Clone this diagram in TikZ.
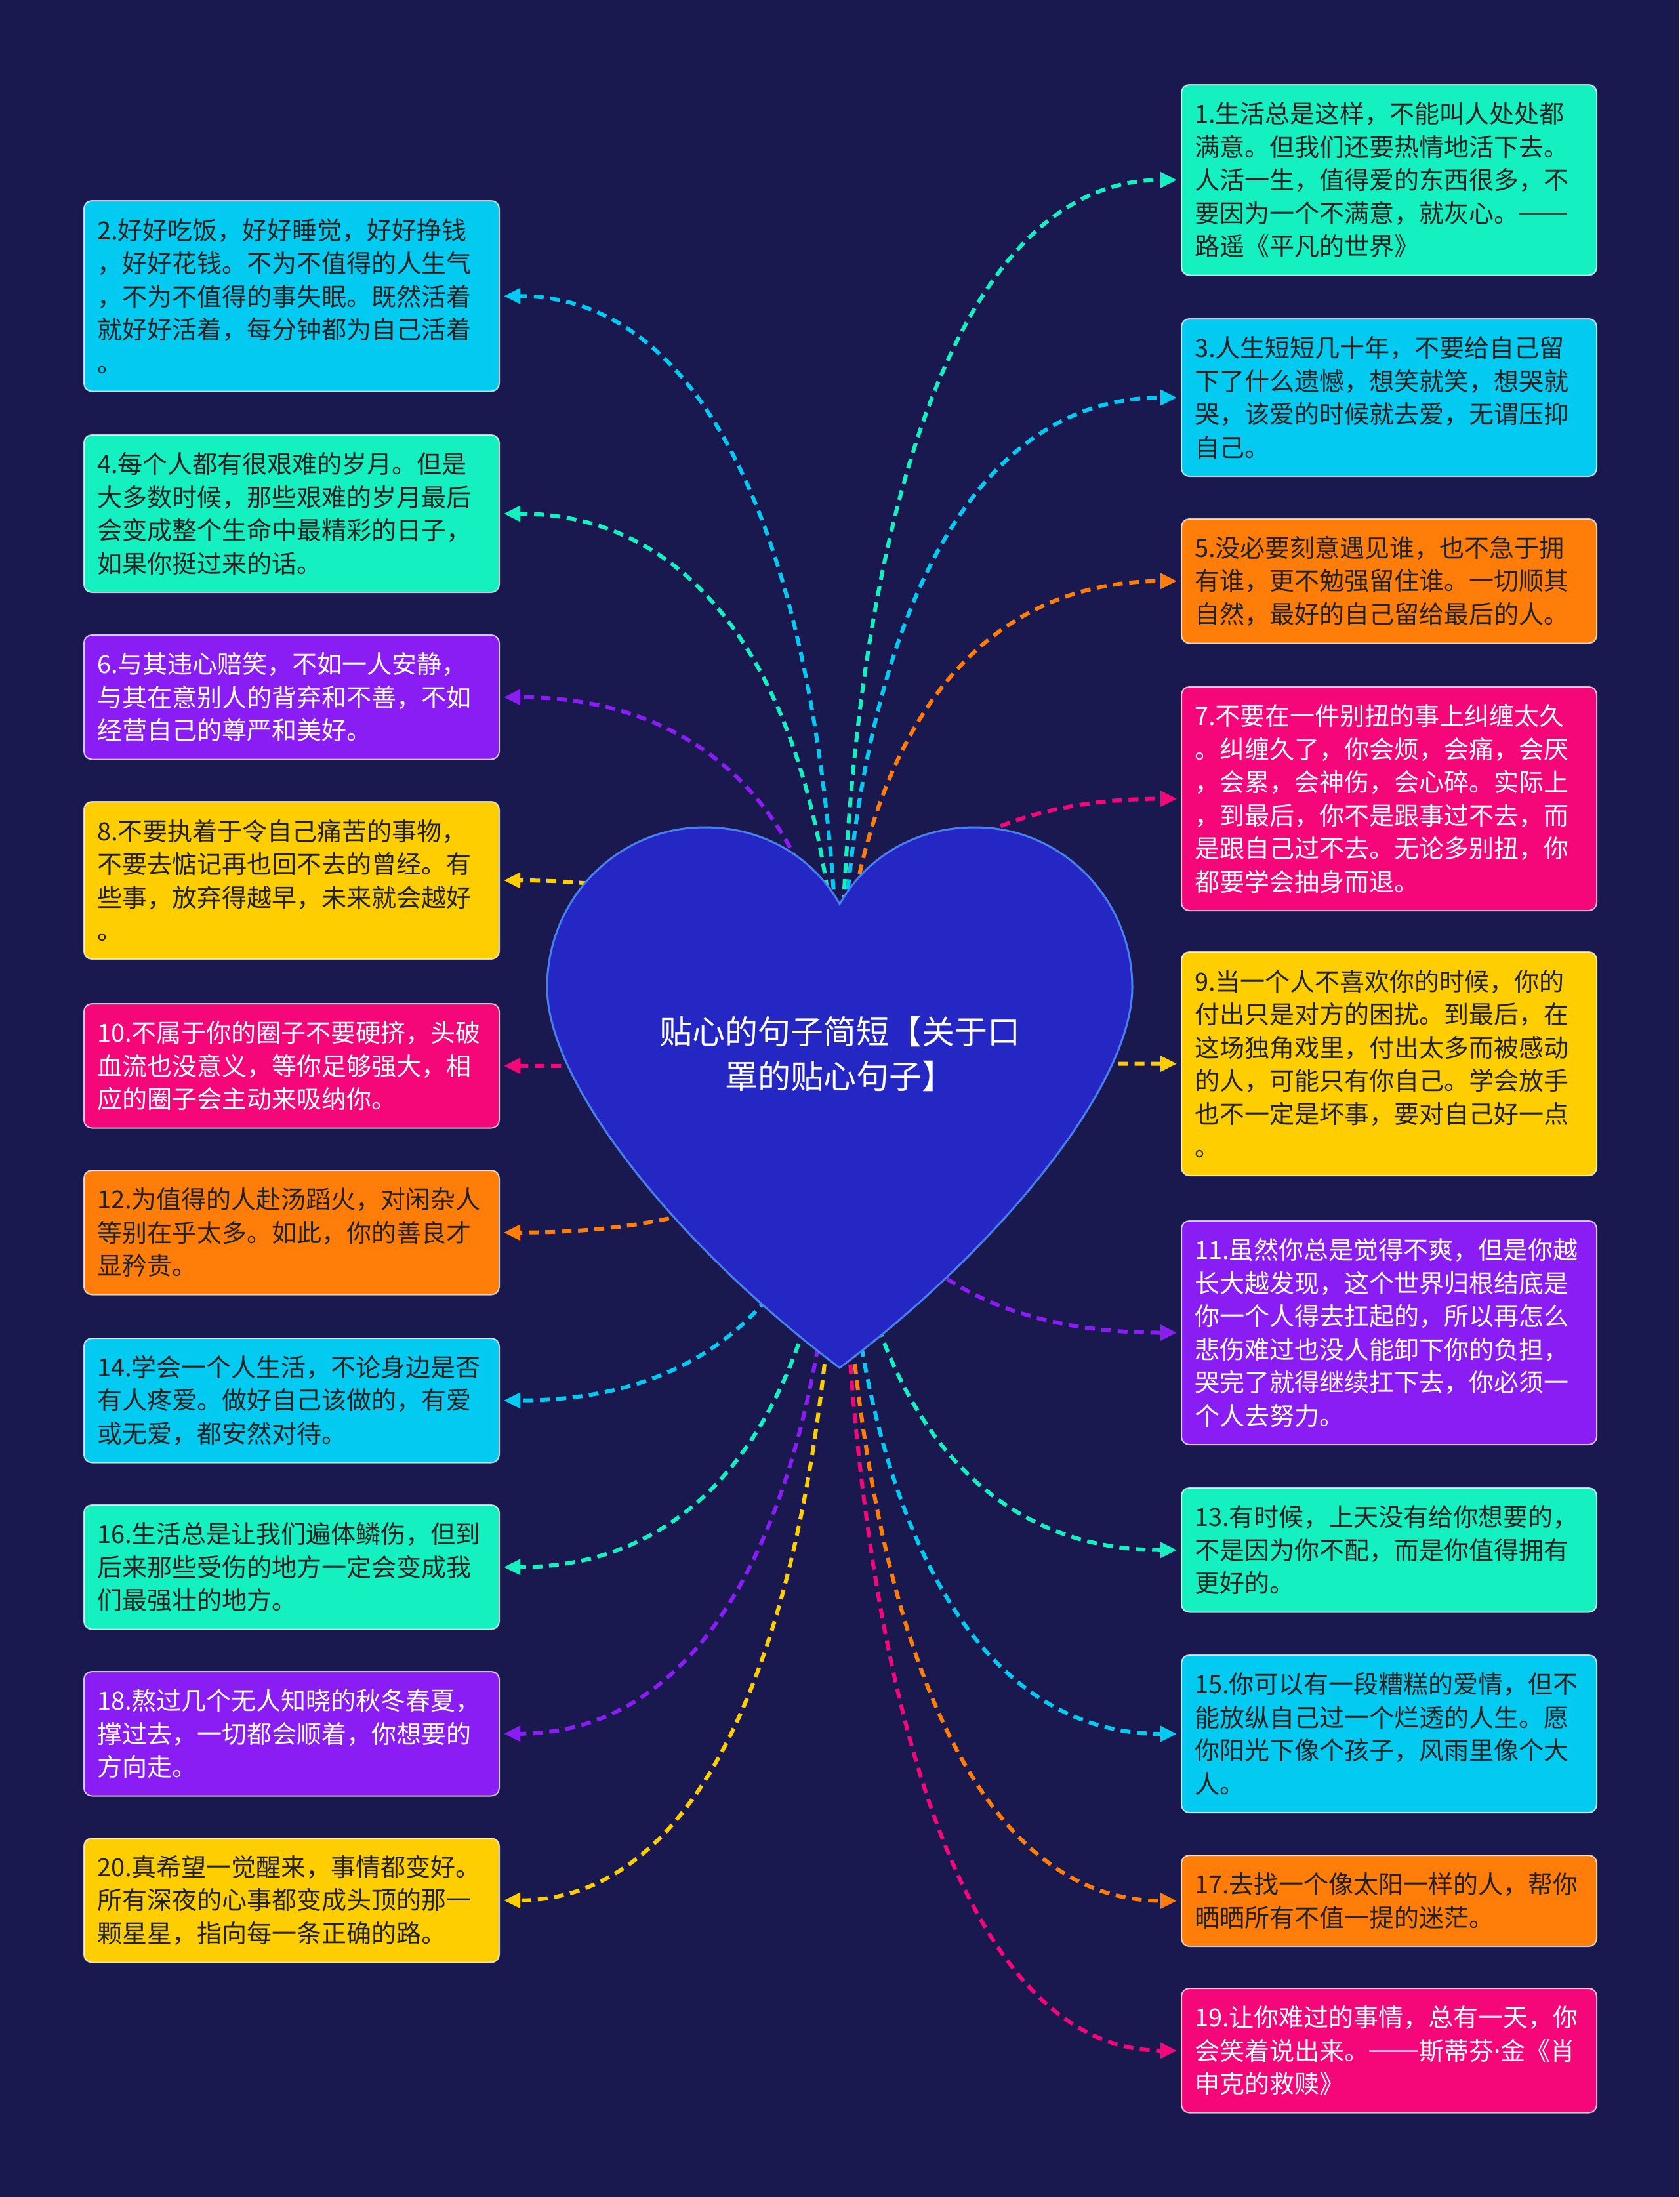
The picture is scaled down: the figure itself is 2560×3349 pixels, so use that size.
\documentclass[tikz,border=0pt]{standalone}
\usepackage{fontspec}
\setmainfont{Noto Sans CJK SC}
\newfontfamily\dotfont{Noto Sans}
\newcommand{\dashdash}{\rule[0.33em]{1.95em}{0.065em}\hspace{0.05em}}
\usetikzlibrary{arrows.meta,calc}
\definecolor{bg}{HTML}{19194F}
\definecolor{heartfill}{HTML}{2527C4}
\definecolor{heartline}{HTML}{4A80EE}
\definecolor{cTeal}{HTML}{14F0C0}
\definecolor{cCyan}{HTML}{02CAF0}
\definecolor{cOrange}{HTML}{FF7D08}
\definecolor{cPink}{HTML}{F5077A}
\definecolor{cPurple}{HTML}{8A1CF4}
\definecolor{cYellow}{HTML}{FFCE00}
\definecolor{darktext}{HTML}{222222}
\tikzset{
  box/.style={rounded corners=12pt, line width=2pt, draw=white, draw opacity=0.75,
    inner xsep=20pt, inner ysep=0pt, text width=593pt, align=left,
    anchor=north west, font=\fontsize{38}{50.5}\selectfont},
  dk/.style={box, text=darktext},
  lt/.style={box, text=white},
  ht2/.style={minimum height=139pt},
  ht3/.style={minimum height=189.5pt},
  ht4/.style={minimum height=240pt},
  ht5/.style={minimum height=290.5pt},
  ht6/.style={minimum height=341pt},
  conn/.style={line width=6pt, dash pattern=on 15pt off 10pt,
    -{Triangle[length=25pt,width=23pt]}},
}
\newcommand{\myconn}[3]{\draw[conn,draw=#1] (root) .. controls ($(root)!0.6!(root|-#2)$) and ($(#2)!0.67!(#2-|root)$) .. ($(#2)+(#3,0)$);}
\begin{document}
\begin{tikzpicture}[x=1pt,y=-1pt]
\useasboundingbox (0,0) rectangle (2560,3349);
\fill[bg] (0,0) rectangle (2560,3349);
\coordinate (root) at (1280,1630);
% right boxes
\node[dk,ht5,fill=cTeal] (b1) at (1800,128) {1.生活总是这样，不能叫人处处都\\满意。但我们还要热情地活下去。\\人活一生，值得爱的东西很多，不\\\mbox{要因为一个不满意，就灰心。\dashdash}\\路遥《平凡的世界》};
\node[dk,ht4,fill=cCyan] (b3) at (1800,485) {3.人生短短几十年，不要给自己留\\下了什么遗憾，想笑就笑，想哭就\\哭，该爱的时候就去爱，无谓压抑\\自己。};
\node[dk,ht3,fill=cOrange] (b5) at (1800,790) {5.没必要刻意遇见谁，也不急于拥\\有谁，更不勉强留住谁。一切顺其\\自然，最好的自己留给最后的人。};
\node[lt,ht6,fill=cPink] (b7) at (1800,1046) {7.不要在一件别扭的事上纠缠太久\\。纠缠久了，你会烦，会痛，会厌\\，会累，会神伤，会心碎。实际上\\，到最后，你不是跟事过不去，而\\是跟自己过不去。无论多别扭，你\\都要学会抽身而退。};
\node[dk,ht6,fill=cYellow] (b9) at (1800,1450) {9.当一个人不喜欢你的时候，你的\\付出只是对方的困扰。到最后，在\\这场独角戏里，付出太多而被感动\\的人，可能只有你自己。学会放手\\也不一定是坏事，要对自己好一点\\。};
\node[lt,ht6,fill=cPurple] (b11) at (1800,1860) {11.虽然你总是觉得不爽，但是你越\\长大越发现，这个世界归根结底是\\你一个人得去扛起的，所以再怎么\\悲伤难过也没人能卸下你的负担，\\哭完了就得继续扛下去，你必须一\\个人去努力。};
\node[dk,ht3,fill=cTeal] (b13) at (1800,2267) {13.有时候，上天没有给你想要的，\\不是因为你不配，而是你值得拥有\\更好的。};
\node[dk,ht4,fill=cCyan] (b15) at (1800,2522) {15.你可以有一段糟糕的爱情，但不\\能放纵自己过一个烂透的人生。愿\\你阳光下像个孩子，风雨里像个大\\人。};
\node[dk,ht2,fill=cOrange] (b17) at (1800,2827) {17.去找一个像太阳一样的人，帮你\\晒晒所有不值一提的迷茫。};
\node[lt,ht3,fill=cPink] (b19) at (1800,3030) {19.让你难过的事情，总有一天，你\\\mbox{会笑着说出来。\dashdash 斯蒂芬{\dotfont ·}金《肖}\\申克的救赎》};
% left boxes
\node[dk,ht5,fill=cCyan] (b2) at (127,305) {2.好好吃饭，好好睡觉，好好挣钱\\，好好花钱。不为不值得的人生气\\，不为不值得的事失眠。既然活着\\就好好活着，每分钟都为自己活着\\。};
\node[dk,ht4,fill=cTeal] (b4) at (127,662) {4.每个人都有很艰难的岁月。但是\\大多数时候，那些艰难的岁月最后\\会变成整个生命中最精彩的日子，\\如果你挺过来的话。};
\node[lt,ht3,fill=cPurple] (b6) at (127,967) {6.与其违心赔笑，不如一人安静，\\与其在意别人的背弃和不善，不如\\经营自己的尊严和美好。};
\node[dk,ht4,fill=cYellow] (b8) at (127,1221) {8.不要执着于令自己痛苦的事物，\\不要去惦记再也回不去的曾经。有\\些事，放弃得越早，未来就会越好\\。};
\node[lt,ht3,fill=cPink] (b10) at (127,1529) {10.不属于你的圈子不要硬挤，头破\\血流也没意义，等你足够强大，相\\应的圈子会主动来吸纳你。};
\node[dk,ht3,fill=cOrange] (b12) at (127,1783) {12.为值得的人赴汤蹈火，对闲杂人\\等别在乎太多。如此，你的善良才\\显矜贵。};
\node[dk,ht3,fill=cCyan] (b14) at (127,2039) {14.学会一个人生活，不论身边是否\\有人疼爱。做好自己该做的，有爱\\或无爱，都安然对待。};
\node[dk,ht3,fill=cTeal] (b16) at (127,2293) {16.生活总是让我们遍体鳞伤，但到\\后来那些受伤的地方一定会变成我\\们最强壮的地方。};
\node[lt,ht3,fill=cPurple] (b18) at (127,2547) {18.熬过几个无人知晓的秋冬春夏，\\撑过去，一切都会顺着，你想要的\\方向走。};
\node[dk,ht3,fill=cYellow] (b20) at (127,2801) {20.真希望一觉醒来，事情都变好。\\所有深夜的心事都变成头顶的那一\\颗星星，指向每一条正确的路。};
% connectors
\myconn{cTeal}{b1.west}{-6}
\myconn{cCyan}{b3.west}{-6}
\myconn{cOrange}{b5.west}{-6}
\myconn{cPink}{b7.west}{-6}
\myconn{cYellow}{b9.west}{-6}
\myconn{cPurple}{b11.west}{-6}
\myconn{cTeal}{b13.west}{-6}
\myconn{cCyan}{b15.west}{-6}
\myconn{cOrange}{b17.west}{-6}
\myconn{cPink}{b19.west}{-6}
\myconn{cCyan}{b2.east}{6}
\myconn{cTeal}{b4.east}{6}
\myconn{cPurple}{b6.east}{6}
\myconn{cYellow}{b8.east}{6}
\myconn{cPink}{b10.east}{6}
\myconn{cOrange}{b12.east}{6}
\myconn{cCyan}{b14.east}{6}
\myconn{cTeal}{b16.east}{6}
\myconn{cPurple}{b18.east}{6}
\myconn{cYellow}{b20.east}{6}
% heart
\draw[fill=heartfill, draw=heartline, line width=3pt, line join=miter]
  (1280,1378) .. controls (1236.6,1301.6) and (1158,1261) .. (1074,1261)
  .. controls (941.5,1261) and (834,1370) .. (834,1505)
  .. controls (834,1655) and (1040,1905) .. (1280,2085)
  .. controls (1520,1905) and (1726,1655) .. (1726,1505)
  .. controls (1726,1370) and (1618.5,1261) .. (1486,1261)
  .. controls (1402,1261) and (1323.4,1301.6) .. (1280,1378) -- cycle;
\node[text=white, align=center, font=\fontsize{50}{68}\selectfont] (title) at (1280,1606) {贴心的句子简短【关于口\\罩的贴心句子】};
\end{tikzpicture}
\end{document}
